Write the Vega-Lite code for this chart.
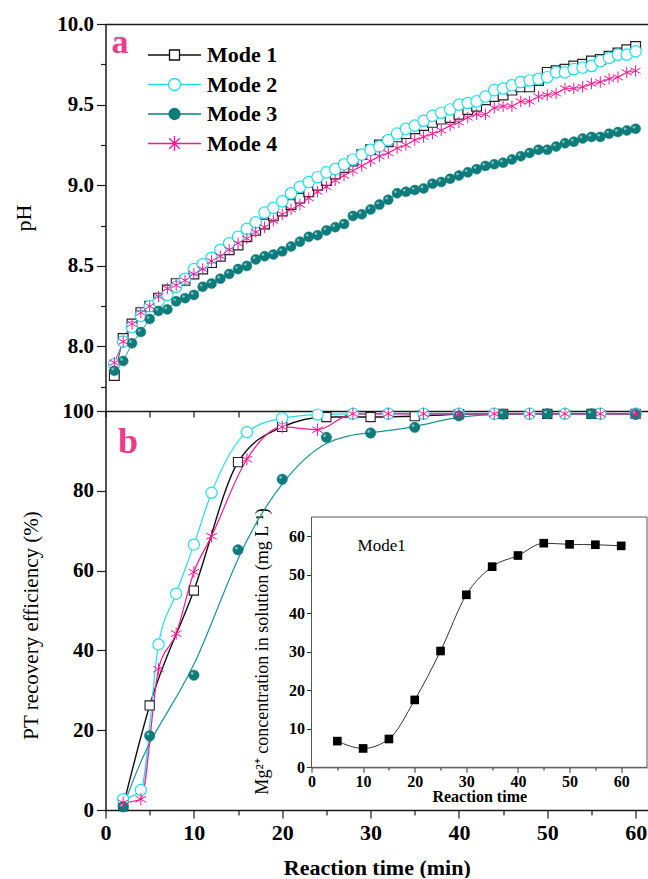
{
  "$schema": "https://vega.github.io/schema/vega-lite/v6.json",
  "background": "white",
  "padding": {"left": 12.5, "top": 13, "right": 0, "bottom": 0},
  "bounds": "flush",
  "spacing": 0,
  "config": {
    "view": {"stroke": null},
    "font": "Liberation Serif",
    "axis": {"grid": false, "domainColor": "#1a1a1a", "domainWidth": 1.5, "tickColor": "#1a1a1a", "tickWidth": 1.2, "labelColor": "#000", "titleColor": "#000", "labelFont": "Liberation Serif", "titleFont": "Liberation Serif", "labelOverlap": false, "labelFlush": false}
  },
  "datasets": {
    "ph": [
      {"t":1,"pH":7.82,"mode":"Mode 1"},{"t":2,"pH":8.05,"mode":"Mode 1"},{"t":3,"pH":8.14,"mode":"Mode 1"},{"t":4,"pH":8.21,"mode":"Mode 1"},{"t":5,"pH":8.25,"mode":"Mode 1"},{"t":6,"pH":8.30,"mode":"Mode 1"},{"t":7,"pH":8.35,"mode":"Mode 1"},{"t":8,"pH":8.39,"mode":"Mode 1"},{"t":9,"pH":8.41,"mode":"Mode 1"},{"t":10,"pH":8.45,"mode":"Mode 1"},
      {"t":11,"pH":8.48,"mode":"Mode 1"},{"t":12,"pH":8.52,"mode":"Mode 1"},{"t":13,"pH":8.56,"mode":"Mode 1"},{"t":14,"pH":8.60,"mode":"Mode 1"},{"t":15,"pH":8.63,"mode":"Mode 1"},{"t":16,"pH":8.68,"mode":"Mode 1"},{"t":17,"pH":8.72,"mode":"Mode 1"},{"t":18,"pH":8.76,"mode":"Mode 1"},{"t":19,"pH":8.81,"mode":"Mode 1"},{"t":20,"pH":8.84,"mode":"Mode 1"},
      {"t":21,"pH":8.88,"mode":"Mode 1"},{"t":22,"pH":8.92,"mode":"Mode 1"},{"t":23,"pH":8.96,"mode":"Mode 1"},{"t":24,"pH":9.00,"mode":"Mode 1"},{"t":25,"pH":9.03,"mode":"Mode 1"},{"t":26,"pH":9.07,"mode":"Mode 1"},{"t":27,"pH":9.11,"mode":"Mode 1"},{"t":28,"pH":9.15,"mode":"Mode 1"},{"t":29,"pH":9.19,"mode":"Mode 1"},{"t":30,"pH":9.22,"mode":"Mode 1"},
      {"t":31,"pH":9.25,"mode":"Mode 1"},{"t":32,"pH":9.27,"mode":"Mode 1"},{"t":33,"pH":9.30,"mode":"Mode 1"},{"t":34,"pH":9.32,"mode":"Mode 1"},{"t":35,"pH":9.35,"mode":"Mode 1"},{"t":36,"pH":9.37,"mode":"Mode 1"},{"t":37,"pH":9.39,"mode":"Mode 1"},{"t":38,"pH":9.41,"mode":"Mode 1"},{"t":39,"pH":9.42,"mode":"Mode 1"},{"t":40,"pH":9.44,"mode":"Mode 1"},
      {"t":41,"pH":9.47,"mode":"Mode 1"},{"t":42,"pH":9.49,"mode":"Mode 1"},{"t":43,"pH":9.53,"mode":"Mode 1"},{"t":44,"pH":9.55,"mode":"Mode 1"},{"t":45,"pH":9.56,"mode":"Mode 1"},{"t":46,"pH":9.59,"mode":"Mode 1"},{"t":47,"pH":9.61,"mode":"Mode 1"},{"t":48,"pH":9.61,"mode":"Mode 1"},{"t":49,"pH":9.65,"mode":"Mode 1"},{"t":50,"pH":9.70,"mode":"Mode 1"},
      {"t":51,"pH":9.71,"mode":"Mode 1"},{"t":52,"pH":9.72,"mode":"Mode 1"},{"t":53,"pH":9.74,"mode":"Mode 1"},{"t":54,"pH":9.75,"mode":"Mode 1"},{"t":55,"pH":9.77,"mode":"Mode 1"},{"t":56,"pH":9.78,"mode":"Mode 1"},{"t":57,"pH":9.80,"mode":"Mode 1"},{"t":58,"pH":9.82,"mode":"Mode 1"},{"t":59,"pH":9.84,"mode":"Mode 1"},{"t":60,"pH":9.86,"mode":"Mode 1"},
      {"t":1,"pH":7.89,"mode":"Mode 2"},{"t":2,"pH":8.03,"mode":"Mode 2"},{"t":3,"pH":8.12,"mode":"Mode 2"},{"t":4,"pH":8.19,"mode":"Mode 2"},{"t":5,"pH":8.25,"mode":"Mode 2"},{"t":6,"pH":8.28,"mode":"Mode 2"},{"t":7,"pH":8.32,"mode":"Mode 2"},{"t":8,"pH":8.37,"mode":"Mode 2"},{"t":9,"pH":8.42,"mode":"Mode 2"},{"t":10,"pH":8.48,"mode":"Mode 2"},
      {"t":11,"pH":8.51,"mode":"Mode 2"},{"t":12,"pH":8.55,"mode":"Mode 2"},{"t":13,"pH":8.60,"mode":"Mode 2"},{"t":14,"pH":8.64,"mode":"Mode 2"},{"t":15,"pH":8.68,"mode":"Mode 2"},{"t":16,"pH":8.73,"mode":"Mode 2"},{"t":17,"pH":8.77,"mode":"Mode 2"},{"t":18,"pH":8.83,"mode":"Mode 2"},{"t":19,"pH":8.86,"mode":"Mode 2"},{"t":20,"pH":8.90,"mode":"Mode 2"},
      {"t":21,"pH":8.95,"mode":"Mode 2"},{"t":22,"pH":8.99,"mode":"Mode 2"},{"t":23,"pH":9.02,"mode":"Mode 2"},{"t":24,"pH":9.05,"mode":"Mode 2"},{"t":25,"pH":9.08,"mode":"Mode 2"},{"t":26,"pH":9.10,"mode":"Mode 2"},{"t":27,"pH":9.13,"mode":"Mode 2"},{"t":28,"pH":9.16,"mode":"Mode 2"},{"t":29,"pH":9.19,"mode":"Mode 2"},{"t":30,"pH":9.22,"mode":"Mode 2"},
      {"t":31,"pH":9.24,"mode":"Mode 2"},{"t":32,"pH":9.28,"mode":"Mode 2"},{"t":33,"pH":9.32,"mode":"Mode 2"},{"t":34,"pH":9.35,"mode":"Mode 2"},{"t":35,"pH":9.37,"mode":"Mode 2"},{"t":36,"pH":9.40,"mode":"Mode 2"},{"t":37,"pH":9.43,"mode":"Mode 2"},{"t":38,"pH":9.45,"mode":"Mode 2"},{"t":39,"pH":9.47,"mode":"Mode 2"},{"t":40,"pH":9.50,"mode":"Mode 2"},
      {"t":41,"pH":9.51,"mode":"Mode 2"},{"t":42,"pH":9.52,"mode":"Mode 2"},{"t":43,"pH":9.55,"mode":"Mode 2"},{"t":44,"pH":9.59,"mode":"Mode 2"},{"t":45,"pH":9.60,"mode":"Mode 2"},{"t":46,"pH":9.62,"mode":"Mode 2"},{"t":47,"pH":9.64,"mode":"Mode 2"},{"t":48,"pH":9.65,"mode":"Mode 2"},{"t":49,"pH":9.66,"mode":"Mode 2"},{"t":50,"pH":9.67,"mode":"Mode 2"},
      {"t":51,"pH":9.70,"mode":"Mode 2"},{"t":52,"pH":9.70,"mode":"Mode 2"},{"t":53,"pH":9.72,"mode":"Mode 2"},{"t":54,"pH":9.73,"mode":"Mode 2"},{"t":55,"pH":9.74,"mode":"Mode 2"},{"t":56,"pH":9.77,"mode":"Mode 2"},{"t":57,"pH":9.79,"mode":"Mode 2"},{"t":58,"pH":9.81,"mode":"Mode 2"},{"t":59,"pH":9.81,"mode":"Mode 2"},{"t":60,"pH":9.83,"mode":"Mode 2"},
      {"t":1,"pH":7.85,"mode":"Mode 3"},{"t":2,"pH":7.91,"mode":"Mode 3"},{"t":3,"pH":8.02,"mode":"Mode 3"},{"t":4,"pH":8.09,"mode":"Mode 3"},{"t":5,"pH":8.17,"mode":"Mode 3"},{"t":6,"pH":8.22,"mode":"Mode 3"},{"t":7,"pH":8.23,"mode":"Mode 3"},{"t":8,"pH":8.28,"mode":"Mode 3"},{"t":9,"pH":8.30,"mode":"Mode 3"},{"t":10,"pH":8.32,"mode":"Mode 3"},
      {"t":11,"pH":8.37,"mode":"Mode 3"},{"t":12,"pH":8.39,"mode":"Mode 3"},{"t":13,"pH":8.42,"mode":"Mode 3"},{"t":14,"pH":8.45,"mode":"Mode 3"},{"t":15,"pH":8.48,"mode":"Mode 3"},{"t":16,"pH":8.50,"mode":"Mode 3"},{"t":17,"pH":8.54,"mode":"Mode 3"},{"t":18,"pH":8.56,"mode":"Mode 3"},{"t":19,"pH":8.57,"mode":"Mode 3"},{"t":20,"pH":8.59,"mode":"Mode 3"},
      {"t":21,"pH":8.62,"mode":"Mode 3"},{"t":22,"pH":8.65,"mode":"Mode 3"},{"t":23,"pH":8.68,"mode":"Mode 3"},{"t":24,"pH":8.69,"mode":"Mode 3"},{"t":25,"pH":8.72,"mode":"Mode 3"},{"t":26,"pH":8.74,"mode":"Mode 3"},{"t":27,"pH":8.76,"mode":"Mode 3"},{"t":28,"pH":8.81,"mode":"Mode 3"},{"t":29,"pH":8.82,"mode":"Mode 3"},{"t":30,"pH":8.85,"mode":"Mode 3"},
      {"t":31,"pH":8.88,"mode":"Mode 3"},{"t":32,"pH":8.91,"mode":"Mode 3"},{"t":33,"pH":8.95,"mode":"Mode 3"},{"t":34,"pH":8.96,"mode":"Mode 3"},{"t":35,"pH":8.97,"mode":"Mode 3"},{"t":36,"pH":8.98,"mode":"Mode 3"},{"t":37,"pH":9.01,"mode":"Mode 3"},{"t":38,"pH":9.02,"mode":"Mode 3"},{"t":39,"pH":9.04,"mode":"Mode 3"},{"t":40,"pH":9.06,"mode":"Mode 3"},
      {"t":41,"pH":9.08,"mode":"Mode 3"},{"t":42,"pH":9.10,"mode":"Mode 3"},{"t":43,"pH":9.12,"mode":"Mode 3"},{"t":44,"pH":9.13,"mode":"Mode 3"},{"t":45,"pH":9.14,"mode":"Mode 3"},{"t":46,"pH":9.16,"mode":"Mode 3"},{"t":47,"pH":9.18,"mode":"Mode 3"},{"t":48,"pH":9.20,"mode":"Mode 3"},{"t":49,"pH":9.22,"mode":"Mode 3"},{"t":50,"pH":9.22,"mode":"Mode 3"},
      {"t":51,"pH":9.24,"mode":"Mode 3"},{"t":52,"pH":9.26,"mode":"Mode 3"},{"t":53,"pH":9.27,"mode":"Mode 3"},{"t":54,"pH":9.29,"mode":"Mode 3"},{"t":55,"pH":9.30,"mode":"Mode 3"},{"t":56,"pH":9.30,"mode":"Mode 3"},{"t":57,"pH":9.32,"mode":"Mode 3"},{"t":58,"pH":9.33,"mode":"Mode 3"},{"t":59,"pH":9.34,"mode":"Mode 3"},{"t":60,"pH":9.35,"mode":"Mode 3"},
      {"t":1,"pH":7.90,"mode":"Mode 4"},{"t":2,"pH":8.03,"mode":"Mode 4"},{"t":3,"pH":8.14,"mode":"Mode 4"},{"t":4,"pH":8.21,"mode":"Mode 4"},{"t":5,"pH":8.25,"mode":"Mode 4"},{"t":6,"pH":8.31,"mode":"Mode 4"},{"t":7,"pH":8.36,"mode":"Mode 4"},{"t":8,"pH":8.38,"mode":"Mode 4"},{"t":9,"pH":8.41,"mode":"Mode 4"},{"t":10,"pH":8.45,"mode":"Mode 4"},
      {"t":11,"pH":8.48,"mode":"Mode 4"},{"t":12,"pH":8.53,"mode":"Mode 4"},{"t":13,"pH":8.56,"mode":"Mode 4"},{"t":14,"pH":8.60,"mode":"Mode 4"},{"t":15,"pH":8.64,"mode":"Mode 4"},{"t":16,"pH":8.67,"mode":"Mode 4"},{"t":17,"pH":8.71,"mode":"Mode 4"},{"t":18,"pH":8.74,"mode":"Mode 4"},{"t":19,"pH":8.78,"mode":"Mode 4"},{"t":20,"pH":8.82,"mode":"Mode 4"},
      {"t":21,"pH":8.85,"mode":"Mode 4"},{"t":22,"pH":8.88,"mode":"Mode 4"},{"t":23,"pH":8.92,"mode":"Mode 4"},{"t":24,"pH":8.96,"mode":"Mode 4"},{"t":25,"pH":8.99,"mode":"Mode 4"},{"t":26,"pH":9.03,"mode":"Mode 4"},{"t":27,"pH":9.06,"mode":"Mode 4"},{"t":28,"pH":9.09,"mode":"Mode 4"},{"t":29,"pH":9.12,"mode":"Mode 4"},{"t":30,"pH":9.15,"mode":"Mode 4"},
      {"t":31,"pH":9.18,"mode":"Mode 4"},{"t":32,"pH":9.20,"mode":"Mode 4"},{"t":33,"pH":9.23,"mode":"Mode 4"},{"t":34,"pH":9.25,"mode":"Mode 4"},{"t":35,"pH":9.28,"mode":"Mode 4"},{"t":36,"pH":9.30,"mode":"Mode 4"},{"t":37,"pH":9.32,"mode":"Mode 4"},{"t":38,"pH":9.34,"mode":"Mode 4"},{"t":39,"pH":9.37,"mode":"Mode 4"},{"t":40,"pH":9.39,"mode":"Mode 4"},
      {"t":41,"pH":9.42,"mode":"Mode 4"},{"t":42,"pH":9.44,"mode":"Mode 4"},{"t":43,"pH":9.44,"mode":"Mode 4"},{"t":44,"pH":9.48,"mode":"Mode 4"},{"t":45,"pH":9.49,"mode":"Mode 4"},{"t":46,"pH":9.49,"mode":"Mode 4"},{"t":47,"pH":9.52,"mode":"Mode 4"},{"t":48,"pH":9.52,"mode":"Mode 4"},{"t":49,"pH":9.55,"mode":"Mode 4"},{"t":50,"pH":9.56,"mode":"Mode 4"},
      {"t":51,"pH":9.57,"mode":"Mode 4"},{"t":52,"pH":9.60,"mode":"Mode 4"},{"t":53,"pH":9.60,"mode":"Mode 4"},{"t":54,"pH":9.61,"mode":"Mode 4"},{"t":55,"pH":9.63,"mode":"Mode 4"},{"t":56,"pH":9.64,"mode":"Mode 4"},{"t":57,"pH":9.66,"mode":"Mode 4"},{"t":58,"pH":9.67,"mode":"Mode 4"},{"t":59,"pH":9.70,"mode":"Mode 4"},{"t":60,"pH":9.71,"mode":"Mode 4"}
    ],
    "eff": [
      {"t":2,"eff":1.0,"mode":"Mode 1"},{"t":5,"eff":26.2,"mode":"Mode 1"},{"t":10,"eff":55.0,"mode":"Mode 1"},{"t":15,"eff":87.2,"mode":"Mode 1"},{"t":20,"eff":96.0,"mode":"Mode 1"},{"t":25,"eff":98.5,"mode":"Mode 1"},{"t":30,"eff":98.5,"mode":"Mode 1"},{"t":35,"eff":98.7,"mode":"Mode 1"},{"t":40,"eff":99.2,"mode":"Mode 1"},{"t":45,"eff":99.3,"mode":"Mode 1"},{"t":50,"eff":99.3,"mode":"Mode 1"},{"t":55,"eff":99.3,"mode":"Mode 1"},{"t":60,"eff":99.3,"mode":"Mode 1"},
      {"t":2,"eff":2.7,"mode":"Mode 2"},{"t":4,"eff":5.0,"mode":"Mode 2"},{"t":6,"eff":41.5,"mode":"Mode 2"},{"t":8,"eff":54.2,"mode":"Mode 2"},{"t":10,"eff":66.5,"mode":"Mode 2"},{"t":12,"eff":79.5,"mode":"Mode 2"},{"t":16,"eff":94.7,"mode":"Mode 2"},{"t":20,"eff":98.2,"mode":"Mode 2"},{"t":24,"eff":99.1,"mode":"Mode 2"},{"t":28,"eff":99.3,"mode":"Mode 2"},{"t":32,"eff":99.3,"mode":"Mode 2"},{"t":36,"eff":99.3,"mode":"Mode 2"},{"t":40,"eff":99.3,"mode":"Mode 2"},{"t":44,"eff":99.3,"mode":"Mode 2"},{"t":48,"eff":99.3,"mode":"Mode 2"},{"t":52,"eff":99.3,"mode":"Mode 2"},{"t":56,"eff":99.3,"mode":"Mode 2"},{"t":60,"eff":99.3,"mode":"Mode 2"},
      {"t":2,"eff":0.8,"mode":"Mode 3"},{"t":5,"eff":18.6,"mode":"Mode 3"},{"t":10,"eff":33.8,"mode":"Mode 3"},{"t":15,"eff":65.2,"mode":"Mode 3"},{"t":20,"eff":82.9,"mode":"Mode 3"},{"t":25,"eff":93.4,"mode":"Mode 3"},{"t":30,"eff":94.5,"mode":"Mode 3"},{"t":35,"eff":95.9,"mode":"Mode 3"},{"t":40,"eff":98.8,"mode":"Mode 3"},{"t":45,"eff":99.2,"mode":"Mode 3"},{"t":50,"eff":99.3,"mode":"Mode 3"},{"t":55,"eff":99.3,"mode":"Mode 3"},{"t":60,"eff":99.2,"mode":"Mode 3"},
      {"t":2,"eff":1.8,"mode":"Mode 4"},{"t":4,"eff":2.7,"mode":"Mode 4"},{"t":6,"eff":35.3,"mode":"Mode 4"},{"t":8,"eff":44.2,"mode":"Mode 4"},{"t":10,"eff":59.6,"mode":"Mode 4"},{"t":12,"eff":68.6,"mode":"Mode 4"},{"t":16,"eff":87.9,"mode":"Mode 4"},{"t":20,"eff":96.0,"mode":"Mode 4"},{"t":24,"eff":95.3,"mode":"Mode 4"},{"t":28,"eff":99.3,"mode":"Mode 4"},{"t":32,"eff":99.3,"mode":"Mode 4"},{"t":36,"eff":99.3,"mode":"Mode 4"},{"t":40,"eff":99.3,"mode":"Mode 4"},{"t":44,"eff":99.3,"mode":"Mode 4"},{"t":48,"eff":99.3,"mode":"Mode 4"},{"t":52,"eff":99.3,"mode":"Mode 4"},{"t":56,"eff":99.3,"mode":"Mode 4"},{"t":60,"eff":99.3,"mode":"Mode 4"}
    ],
    "mg": [
      {"t":5,"mg":6.8},{"t":10,"mg":4.9},{"t":15,"mg":7.35},{"t":20,"mg":17.5},{"t":25,"mg":30.2},{"t":30,"mg":44.8},{"t":35,"mg":52.1},{"t":40,"mg":55.0},{"t":45,"mg":58.2},{"t":50,"mg":57.9},{"t":55,"mg":57.8},{"t":60,"mg":57.5}
    ]
  },
  "resolve": {"scale": {"color": "independent"}, "legend": {"color": "independent"}},
  "vconcat": [
    {
      "width": 542.5,
      "height": 387,
      "data": {"name": "ph"},
      "layer": [
        {
          "mark": {"type": "line", "strokeWidth": 0.8},
          "encoding": {
            "x": {"field": "t", "type": "quantitative", "scale": {"domain": [0, 61.4], "nice": false, "zero": false},
                  "axis": {"orient": "top", "labels": false, "ticks": false, "title": null}},
            "y": {"field": "pH", "type": "quantitative", "scale": {"domain": [7.6, 10], "nice": false, "zero": false},
                  "axis": {"orient": "left", "values": [7.75, 8, 8.25, 8.5, 8.75, 9, 9.25, 9.5, 9.75, 10],
                           "labelExpr": "(datum.value*2)%1==0 ? format(datum.value,'.1f') : ''",
                           "tickSize": {"condition": {"test": "(datum.value*2)%1==0", "value": 9}, "value": 5},
                           "labelFontSize": 21, "labelFontWeight": "bold", "labelPadding": 3,
                           "title": "pH", "titleFontSize": 22, "titleFontWeight": "normal", "titleX": -82, "titleY": 193.5, "titleAngle": 270, "titleBaseline": "middle", "titleAlign": "center"}},
            "color": {"field": "mode", "type": "nominal",
                      "scale": {"domain": ["Mode 1", "Mode 2", "Mode 3", "Mode 4"], "range": ["#111111", "#1FE0EE", "#0E7C7B", "#FF1493"]},
                      "legend": {"orient": "none", "legendX": 53, "legendY": 15, "title": null, "padding": 0,
                                 "symbolSize": 900, "symbolStrokeWidth": 1.3, "rowPadding": 2.5, "labelOffset": 16.5,
                                 "labelFont": "Liberation Serif", "labelFontSize": 22, "labelFontWeight": "bold", "labelColor": "#000",
                                 "encode": {"symbols": {"update": {
                                   "shape": {"signal": "datum.value === 'Mode 1' ? 'M-1.77,0L-0.333,0M0.333,0L1.77,0M-0.333,-0.333L0.333,-0.333L0.333,0.333L-0.333,0.333Z' : datum.value === 'Mode 2' ? 'M-1.77,0L-0.4,0M0.4,0L1.77,0M-0.4,0A0.4,0.4,0,1,0,0.4,0A0.4,0.4,0,1,0,-0.4,0Z' : datum.value === 'Mode 3' ? 'M-1.77,0L-0.367,0M0.367,0L1.77,0M-0.367,0A0.367,0.367,0,1,0,0.367,0A0.367,0.367,0,1,0,-0.367,0Z' : 'M-1.77,0L1.77,0M0,-0.5L0,0.5M-0.35,-0.35L0.35,0.35M-0.35,0.35L0.35,-0.35'"},
                                   "fill": {"signal": "datum.value === 'Mode 3' ? '#0E7C7B' : datum.value === 'Mode 4' ? 'transparent' : '#ffffff'"}
                                 }}}}}
          }
        },
        {
          "transform": [{"filter": {"field": "mode", "equal": "Mode 1"}}],
          "mark": {"type": "point", "shape": "square", "filled": true, "fill": "#ffffff", "stroke": "#222222", "strokeWidth": 1.2, "size": 95, "opacity": 1},
          "encoding": {"x": {"field": "t", "type": "quantitative"}, "y": {"field": "pH", "type": "quantitative"}}
        },
        {
          "transform": [{"filter": {"field": "mode", "equal": "Mode 2"}}],
          "mark": {"type": "point", "shape": "circle", "filled": true, "fill": "#ffffff", "stroke": "#1FE0EE", "strokeWidth": 1.2, "size": 130, "opacity": 1},
          "encoding": {"x": {"field": "t", "type": "quantitative"}, "y": {"field": "pH", "type": "quantitative"}}
        },
        {
          "transform": [{"filter": {"field": "mode", "equal": "Mode 3"}}],
          "mark": {"type": "point", "shape": "circle", "filled": true, "fill": "#0E7C7B", "stroke": "#0E7C7B", "strokeWidth": 0.5, "size": 100, "opacity": 1},
          "encoding": {"x": {"field": "t", "type": "quantitative"}, "y": {"field": "pH", "type": "quantitative"}}
        },
        {
          "transform": [{"filter": {"field": "mode", "equal": "Mode 3"}}],
          "mark": {"type": "point", "shape": "circle", "filled": true, "fill": "#9fd3d3", "strokeWidth": 0, "size": 7, "opacity": 0.8, "xOffset": -1.6, "yOffset": -1.6},
          "encoding": {"x": {"field": "t", "type": "quantitative"}, "y": {"field": "pH", "type": "quantitative"}}
        },
        {
          "transform": [{"filter": {"field": "mode", "equal": "Mode 4"}}],
          "mark": {"type": "point", "shape": "M0,-1L0,1M-0.87,-0.5L0.87,0.5M-0.87,0.5L0.87,-0.5", "filled": false, "stroke": "#FF1493", "strokeWidth": 1, "size": 130, "opacity": 1},
          "encoding": {"x": {"field": "t", "type": "quantitative"}, "y": {"field": "pH", "type": "quantitative"}}
        },
        {
          "data": {"values": [{}]},
          "mark": {"type": "text", "text": "a", "font": "Liberation Serif", "fontWeight": "bold", "fontSize": 34, "color": "#EF3B8C", "align": "center", "baseline": "alphabetic"},
          "encoding": {"x": {"datum": 1.64, "type": "quantitative"}, "y": {"datum": 9.82, "type": "quantitative"}}
        }
      ]
    },
    {
      "width": 542.5,
      "height": 399,
      "resolve": {"scale": {"x": "independent", "y": "independent"}, "axis": {"x": "independent", "y": "independent"}},
      "layer": [
        {
          "data": {"name": "eff"},
          "layer": [
            {
              "transform": [{"filter": {"field": "mode", "equal": "Mode 1"}}],
              "mark": {"type": "line", "interpolate": "monotone", "strokeWidth": 1.4, "color": "#111111"},
              "encoding": {
                "x": {"field": "t", "type": "quantitative", "scale": {"domain": [0, 61.4], "nice": false, "zero": false},
                      "axis": {"orient": "bottom", "values": [0,5,10,15,20,25,30,35,40,45,50,55,60],
                               "labelExpr": "datum.value%10==0 ? datum.label : ''",
                               "tickSize": {"condition": {"test": "datum.value%10==0", "value": 8}, "value": 5},
                               "labelFontSize": 22, "labelFontWeight": "bold", "labelPadding": 4,
                               "title": "Reaction time (min)", "titleFontSize": 22, "titleFontWeight": "bold", "titleY": 57, "titleBaseline": "middle"}},
                "y": {"field": "eff", "type": "quantitative", "scale": {"domain": [0, 100], "nice": false, "zero": false},
                      "axis": {"orient": "left", "values": [0,10,20,30,40,50,60,70,80,90,100],
                               "labelExpr": "datum.value%20==0 ? datum.label : ''",
                               "tickSize": {"condition": {"test": "datum.value%20==0", "value": 9}, "value": 5},
                               "labelFontSize": 21, "labelFontWeight": "bold", "labelPadding": 3,
                               "title": "PT recovery efficiency (%)", "titleFontSize": 21, "titleFontWeight": "normal", "titleX": -74, "titleY": 214, "titleAngle": 270, "titleBaseline": "middle", "titleAlign": "center"}}
              }
            },
            {
              "transform": [{"filter": {"field": "mode", "equal": "Mode 2"}}],
              "mark": {"type": "line", "interpolate": "monotone", "strokeWidth": 1.2, "color": "#1FE0EE"},
              "encoding": {"x": {"field": "t", "type": "quantitative", "axis": null}, "y": {"field": "eff", "type": "quantitative"}}
            },
            {
              "transform": [{"filter": {"field": "mode", "equal": "Mode 3"}}],
              "mark": {"type": "line", "interpolate": "basis", "strokeWidth": 1.2, "color": "#1A9494"},
              "encoding": {"x": {"field": "t", "type": "quantitative", "axis": null}, "y": {"field": "eff", "type": "quantitative"}}
            },
            {
              "transform": [{"filter": {"field": "mode", "equal": "Mode 4"}}],
              "mark": {"type": "line", "interpolate": "monotone", "strokeWidth": 1.2, "color": "#FF1493"},
              "encoding": {"x": {"field": "t", "type": "quantitative", "axis": null}, "y": {"field": "eff", "type": "quantitative"}}
            },
            {
              "transform": [{"filter": {"field": "mode", "equal": "Mode 1"}}],
              "mark": {"type": "point", "shape": "square", "filled": true, "fill": "#ffffff", "stroke": "#222222", "strokeWidth": 1.1, "size": 85, "opacity": 1},
              "encoding": {
                "x": {"field": "t", "type": "quantitative", "scale": {"domain": [0, 61.4], "nice": false, "zero": false},
                      "axis": {"orient": "top", "values": [0,5,10,15,20,25,30,35,40,45,50,55,60], "labels": false, "tickSize": -6, "title": null}},
                "y": {"field": "eff", "type": "quantitative"}
              }
            },
            {
              "transform": [{"filter": {"field": "mode", "equal": "Mode 2"}}],
              "mark": {"type": "point", "shape": "circle", "filled": true, "fill": "#ffffff", "stroke": "#1FE0EE", "strokeWidth": 1.2, "size": 125, "opacity": 1},
              "encoding": {"x": {"field": "t", "type": "quantitative", "axis": null}, "y": {"field": "eff", "type": "quantitative"}}
            },
            {
              "transform": [{"filter": {"field": "mode", "equal": "Mode 3"}}],
              "mark": {"type": "point", "shape": "circle", "filled": true, "fill": "#0E7C7B", "stroke": "#0E7C7B", "strokeWidth": 0.5, "size": 110, "opacity": 1},
              "encoding": {"x": {"field": "t", "type": "quantitative", "axis": null}, "y": {"field": "eff", "type": "quantitative"}}
            },
            {
              "transform": [{"filter": {"field": "mode", "equal": "Mode 3"}}],
              "mark": {"type": "point", "shape": "circle", "filled": true, "fill": "#9fd3d3", "strokeWidth": 0, "size": 8, "opacity": 0.8, "xOffset": -1.7, "yOffset": -1.7},
              "encoding": {"x": {"field": "t", "type": "quantitative", "axis": null}, "y": {"field": "eff", "type": "quantitative"}}
            },
            {
              "transform": [{"filter": {"field": "mode", "equal": "Mode 4"}}],
              "mark": {"type": "point", "shape": "M0,-1L0,1M-0.87,-0.5L0.87,0.5M-0.87,0.5L0.87,-0.5", "filled": false, "stroke": "#FF1493", "strokeWidth": 1, "size": 150, "opacity": 1},
              "encoding": {"x": {"field": "t", "type": "quantitative", "axis": null}, "y": {"field": "eff", "type": "quantitative"}}
            },
            {
              "data": {"values": [{}]},
              "mark": {"type": "text", "text": "b", "font": "Liberation Serif", "fontWeight": "bold", "fontSize": 36, "color": "#EF3B8C", "align": "center", "baseline": "alphabetic"},
              "encoding": {"x": {"datum": 2.55, "type": "quantitative", "axis": null}, "y": {"datum": 89.4, "type": "quantitative"}}
            }
          ]
        },
        {
          "data": {"name": "mg"},
          "layer": [
            {
              "data": {"values": [{}]},
              "mark": {"type": "rect", "fill": "#ffffff", "stroke": "#555555", "strokeWidth": 1},
              "encoding": {
                "x": {"datum": 0, "type": "quantitative", "scale": {"domain": [0, 65], "range": [206, 541.5], "nice": false, "zero": false}},
                "x2": {"datum": 65},
                "y": {"datum": 0, "type": "quantitative", "scale": {"domain": [0, 65], "range": [356.3, 106], "nice": false, "zero": false}},
                "y2": {"datum": 65}
              }
            },
            {
              "mark": {"type": "line", "interpolate": "monotone", "color": "#333333", "strokeWidth": 1},
              "encoding": {
                "x": {"field": "t", "type": "quantitative", "scale": {"domain": [0, 65], "range": [206, 541.5], "nice": false, "zero": false},
                      "axis": {"orient": "bottom", "offset": -42.7, "values": [0,5,10,15,20,25,30,35,40,45,50,55,60],
                               "labelExpr": "datum.value%10==0 ? datum.label : ''",
                               "tickSize": {"condition": {"test": "datum.value%10==0", "value": 5}, "value": 3},
                               "domainWidth": 1, "tickWidth": 1, "domainColor": "#333333", "tickColor": "#333333",
                               "labelFontSize": 16, "labelFontWeight": "bold", "labelPadding": 1,
                               "title": "Reaction time", "titleFontSize": 16, "titleFontWeight": "bold", "titleY": 29.5, "titleBaseline": "middle"}},
                "y": {"field": "mg", "type": "quantitative", "scale": {"domain": [0, 65], "range": [356.3, 106], "nice": false, "zero": false},
                      "axis": {"orient": "left", "offset": -206, "values": [0,5,10,15,20,25,30,35,40,45,50,55,60],
                               "labelExpr": "datum.value%10==0 ? datum.label : ''",
                               "tickSize": {"condition": {"test": "datum.value%10==0", "value": 5}, "value": 3},
                               "domainWidth": 1, "tickWidth": 1, "domainColor": "#333333", "tickColor": "#333333",
                               "labelFontSize": 16, "labelFontWeight": "bold", "labelPadding": 2,
                               "title": "Mg²⁺ concentration in solution (mg L⁻¹)", "titleFontSize": 18, "titleFontWeight": "normal",
                               "titleX": -49.5, "titleY": 240, "titleAngle": 270, "titleBaseline": "middle", "titleAlign": "center"}}
              }
            },
            {
              "mark": {"type": "point", "shape": "square", "filled": true, "color": "#000000", "size": 75, "opacity": 1},
              "encoding": {"x": {"field": "t", "type": "quantitative"}, "y": {"field": "mg", "type": "quantitative"}}
            },
            {
              "data": {"values": [{}]},
              "mark": {"type": "text", "text": "Mode1", "font": "Liberation Serif", "fontSize": 17, "color": "#000000", "align": "center", "baseline": "middle"},
              "encoding": {"x": {"datum": 13.6, "type": "quantitative"}, "y": {"datum": 57.5, "type": "quantitative"}}
            }
          ]
        }
      ]
    }
  ]
}
